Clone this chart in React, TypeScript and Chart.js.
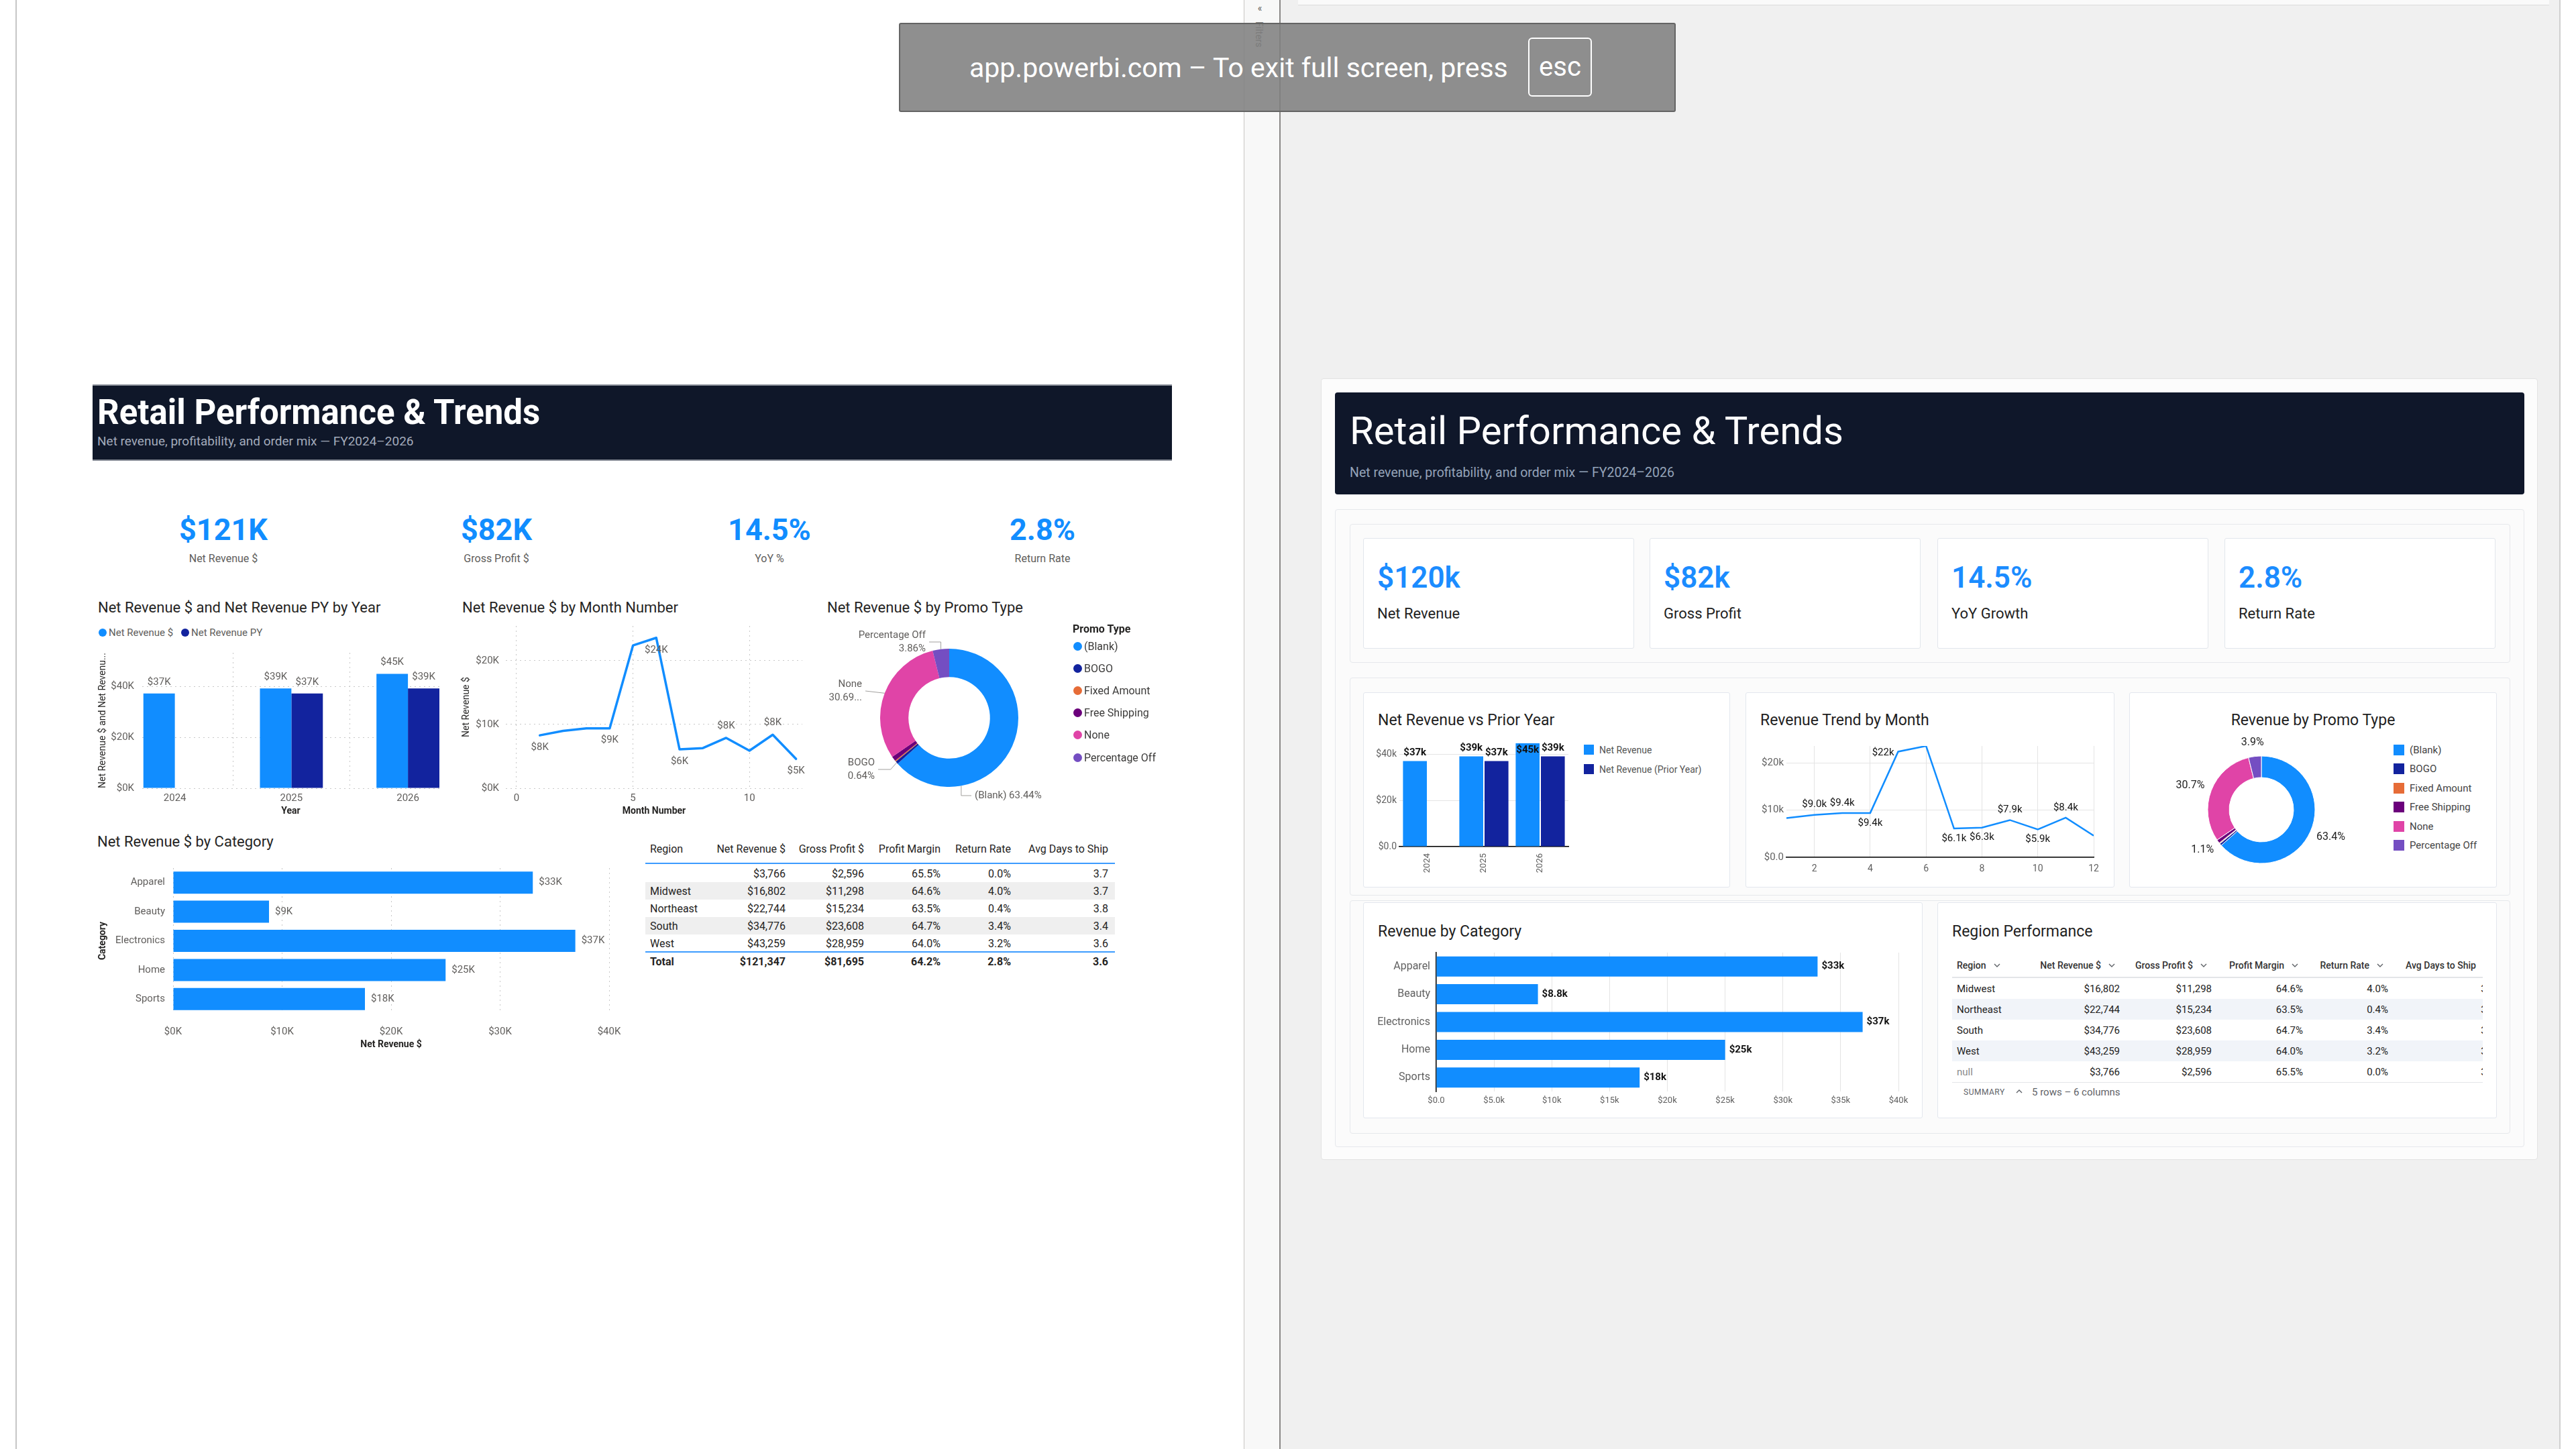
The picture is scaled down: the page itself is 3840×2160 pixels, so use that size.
import React, { useEffect, useRef } from 'react';
import { Chart, registerables } from 'chart.js';

Chart.register(...registerables);

const FONT = 'Roboto, "Noto Sans", "DejaVu Sans", sans-serif';
Chart.defaults.font.family = FONT;

// ---------------- DATA ----------------
const years = ['2024', '2025', '2026'];
const netRevenueK = [37.2, 39.2, 44.9];
const netRevenuePYK = [null, 37.2, 39.2];

const monthNumbers = [1, 2, 3, 4, 5, 6, 7, 8, 9, 10, 11, 12];
const monthlyRevenueK = [8.3, 9.0, 9.4, 9.4, 22.4, 23.6, 6.1, 6.3, 7.9, 5.9, 8.4, 4.6];

const promoTypes = ['(Blank)', 'BOGO', 'Fixed Amount', 'Free Shipping', 'None', 'Percentage Off'];
const promoRevenue = [76983, 777, 328, 1335, 37241, 4684];

const categories = ['Apparel', 'Beauty', 'Electronics', 'Home', 'Sports'];
const categoryRevenueK = [33.0, 8.8, 36.9, 25.0, 17.6];

const regions = ['', 'Midwest', 'Northeast', 'South', 'West'];
const regionNetRevenue = [3766, 16802, 22744, 34776, 43259];
const regionGrossProfit = [2596, 11298, 15234, 23608, 28959];
const regionProfitMargin = [65.5, 64.6, 63.5, 64.7, 64.0];
const regionReturnRate = [0.0, 4.0, 0.4, 3.4, 3.2];
const regionAvgDaysToShip = [3.7, 3.7, 3.8, 3.4, 3.6];
const tableTotals = ['Total', '$121,347', '$81,695', '64.2%', '2.8%', '3.6'];
const tableHeaders = ['Region', 'Net Revenue $', 'Gross Profit $', 'Profit Margin', 'Return Rate', 'Avg Days to Ship'];

const kpiLabelsPBI = ['Net Revenue $', 'Gross Profit $', 'YoY %', 'Return Rate'];
const kpiValuesPBI = ['$121K', '$82K', '14.5%', '2.8%'];
const kpiLabelsLooker = ['Net Revenue', 'Gross Profit', 'YoY Growth', 'Return Rate'];
const kpiValuesLooker = ['$120k', '$82k', '14.5%', '2.8%'];

// ---------------- STYLE ----------------
const PBI_BLUE = '#118DFF';
const PBI_NAVY = '#12239E';
const PBI_GRAY = '#605E5C';
const PBI_DARK = '#252423';
const LS_GRAY = '#616161';
const GRID_DOT = '#c8c8c8';
const GRID_LS = '#e4e4e4';
const promoColors = ['#118DFF', '#12239E', '#E66C37', '#6B007B', '#E044A7', '#744EC2'];

const leftLineLabelPos = ['below', null, null, 'below', null, 'below', 'below', null, 'above', null, 'above', 'below'];
const rightLineLabelPos = [null, 'above', 'above', 'below', 'left', null, 'below', 'below', 'above', 'below', 'above', null];

const leftDonutLabelStyle = [
  { idx: 0, dx: 38, dy: 116, align: 'left', twoLine: false, kneeDx: 0, anchorDeg: 170 },
  { idx: 1, dx: -111, dy: 77, align: 'right', twoLine: true, kneeDx: -9 },
  { idx: 4, dx: -130, dy: -40, align: 'right', twoLine: true, kneeDx: null, truncate: true },
  { idx: 5, dx: -35, dy: -113, align: 'right', twoLine: true, kneeDx: 0 },
];

const fmtK = (v: number) => `$${Math.round(v)}K`;
const fmtk = (v: number) => (v === 0 ? '$0.0' : v >= 10 ? `$${Math.round(v)}k` : `$${v.toFixed(1)}k`);
const money = (n: number) => '$' + n.toLocaleString('en-US');
const pct1 = (n: number) => n.toFixed(1) + '%';
const sum = (a: number[]) => a.reduce((s, v) => s + v, 0);

// ---------------- HELPERS ----------------
function T({ x, y, size, color = PBI_DARK, weight = 400, align = 'left', children, extra }: any) {
  const lh = Math.round(size * 1.2);
  const transform = align === 'center' ? 'translateX(-50%)' : align === 'right' ? 'translateX(-100%)' : undefined;
  return (
    <div
      style={{
        position: 'absolute', left: x, top: y - lh / 2, fontSize: size, lineHeight: `${lh}px`, color,
        fontWeight: weight, whiteSpace: 'nowrap', transform, ...extra,
      }}
    >
      {children}
    </div>
  );
}

function Box({ x, y, w, h, bg, border, radius, extra }: any) {
  return (
    <div
      style={{
        position: 'absolute', left: x, top: y, width: w, height: h, background: bg, border,
        borderRadius: radius, boxSizing: 'border-box', ...extra,
      }}
    />
  );
}

function Chevron({ x, y, up }: any) {
  return (
    <svg style={{ position: 'absolute', left: x - 5, top: y - 3 }} width={10} height={6} viewBox="0 0 10 6">
      <path d={up ? 'M1 5 L5 1 L9 5' : 'M1 1 L5 5 L9 1'} stroke="#5f6368" strokeWidth={1.4} fill="none" />
    </svg>
  );
}

function ChartCanvas({ x, y, w, h, make }: any) {
  const ref = useRef<HTMLCanvasElement>(null);
  useEffect(() => {
    const chart = new Chart(ref.current as HTMLCanvasElement, make());
    return () => chart.destroy();
  }, []);
  return <canvas ref={ref} width={w} height={h} style={{ position: 'absolute', left: x, top: y, width: w, height: h }} />;
}

const base = (pad: any) => ({
  responsive: false,
  animation: false,
  devicePixelRatio: 1,
  layout: { padding: pad },
  plugins: { legend: { display: false }, tooltip: { enabled: false } },
});

const barTopLabels = (fmt: any, color: string, font: string, gap: number, insideIfTop: boolean) => ({
  id: 'barTopLabels',
  afterDatasetsDraw(chart: any) {
    const { ctx, chartArea } = chart;
    ctx.save();
    ctx.fillStyle = color;
    ctx.font = font;
    ctx.textAlign = 'center';
    ctx.textBaseline = 'middle';
    chart.data.datasets.forEach((ds: any, di: number) => {
      const meta = chart.getDatasetMeta(di);
      meta.data.forEach((el: any, i: number) => {
        const raw = ds.data[i];
        const v = raw !== null && typeof raw === 'object' ? raw.y : raw;
        if (v == null) return;
        let yy = el.y - gap;
        if (insideIfTop && el.y <= chartArea.top + 1) yy = el.y + 10;
        ctx.fillText(fmt(v), el.x, yy);
      });
    });
    ctx.restore();
  },
});

const hbarLabels = (fmt: any, color: string, font: string, gap: number) => ({
  id: 'hbarLabels',
  afterDatasetsDraw(chart: any) {
    const { ctx } = chart;
    ctx.save();
    ctx.fillStyle = color;
    ctx.font = font;
    ctx.textAlign = 'left';
    ctx.textBaseline = 'middle';
    const ds = chart.data.datasets[0];
    chart.getDatasetMeta(0).data.forEach((el: any, i: number) => {
      ctx.fillText(fmt(ds.data[i]), el.x + gap, el.y);
    });
    ctx.restore();
  },
});

const lineLabels = (positions: any[], fmt: any, color: string, font: string, off: number) => ({
  id: 'lineLabels',
  afterDatasetsDraw(chart: any) {
    const { ctx } = chart;
    ctx.save();
    ctx.fillStyle = color;
    ctx.font = font;
    ctx.textBaseline = 'middle';
    const ds = chart.data.datasets[0];
    chart.getDatasetMeta(0).data.forEach((el: any, i: number) => {
      const pos = positions[i];
      if (!pos) return;
      const v = ds.data[i].y;
      if (pos === 'left') {
        ctx.textAlign = 'right';
        ctx.fillText(fmt(v), el.x - 6, el.y + 2);
      } else {
        ctx.textAlign = 'center';
        ctx.fillText(fmt(v), el.x, pos === 'above' ? el.y - off : el.y + off);
      }
    });
    ctx.restore();
  },
});

const leftDonutLabels = {
  id: 'leftDonutLabels',
  afterDatasetsDraw(chart: any) {
    const { ctx } = chart;
    const meta = chart.getDatasetMeta(0);
    const total = sum(promoRevenue);
    ctx.save();
    ctx.font = `15px ${FONT}`;
    ctx.fillStyle = PBI_GRAY;
    ctx.strokeStyle = '#a19f9d';
    ctx.lineWidth = 1;
    ctx.textBaseline = 'middle';
    leftDonutLabelStyle.forEach((s: any) => {
      const arc = meta.data[s.idx];
      const { x: cx, y: cy, outerRadius: R, startAngle, endAngle } = arc.getProps(['x', 'y', 'outerRadius', 'startAngle', 'endAngle'], true);
      const ang = s.anchorDeg != null ? ((s.anchorDeg - 90) * Math.PI) / 180 : (startAngle + endAngle) / 2;
      const ax = cx + R * Math.cos(ang);
      const ay = cy + R * Math.sin(ang);
      const tx = cx + s.dx;
      const ty = cy + s.dy;
      const endX = s.align === 'right' ? tx + 5 : tx - 5;
      ctx.beginPath();
      ctx.moveTo(ax, ay);
      if (s.kneeDx != null) ctx.lineTo(ax + s.kneeDx, ty);
      ctx.lineTo(endX, ty);
      ctx.stroke();
      const p = (promoRevenue[s.idx] / total) * 100;
      const pTxt = s.truncate ? p.toFixed(2) + '...' : p.toFixed(2) + '%';
      ctx.textAlign = s.align;
      if (s.twoLine) {
        ctx.fillText(promoTypes[s.idx], tx, ty - 10);
        ctx.fillText(pTxt, tx, ty + 10);
      } else {
        ctx.fillText(`${promoTypes[s.idx]} ${pTxt}`, tx, ty);
      }
    });
    ctx.restore();
  },
};

const rightDonutLabels = {
  id: 'rightDonutLabels',
  afterDatasetsDraw(chart: any) {
    const { ctx } = chart;
    const meta = chart.getDatasetMeta(0);
    const total = sum(promoRevenue);
    ctx.save();
    ctx.font = `16px ${FONT}`;
    ctx.fillStyle = '#222';
    ctx.textAlign = 'center';
    ctx.textBaseline = 'middle';
    meta.data.forEach((arc: any, i: number) => {
      const p = (promoRevenue[i] / total) * 100;
      if (p < 1) return;
      const { x, y, outerRadius, startAngle, endAngle } = arc.getProps(['x', 'y', 'outerRadius', 'startAngle', 'endAngle'], true);
      const a = (startAngle + endAngle) / 2;
      const c = Math.cos(a);
      const s = Math.sin(a);
      const txt = p.toFixed(1) + '%';
      const w = ctx.measureText(txt).width;
      ctx.fillText(txt, x + (outerRadius + 12) * c + (c * w) / 2, y + (outerRadius + 12) * s + s * 9);
    });
    ctx.restore();
  },
};

// ---------------- CHART CONFIGS ----------------
const makeL1 = () => ({
  type: 'bar',
  data: {
    datasets: [
      { label: 'Net Revenue $', data: years.map((yv, i) => ({ x: Number(yv), y: netRevenueK[i] })), backgroundColor: PBI_BLUE },
      { label: 'Net Revenue PY', data: years.map((yv, i) => ({ x: Number(yv), y: netRevenuePYK[i] })), backgroundColor: PBI_NAVY },
    ],
  },
  options: {
    ...base({ left: 0, top: 22, right: 15, bottom: 0 }),
    datasets: { bar: { categoryPercentage: 0.54, barPercentage: 1 } },
    scales: {
      x: {
        type: 'linear', min: 2023.72, max: 2026.27, offset: false,
        afterFit: (s: any) => { s.height = 45; },
        ticks: { stepSize: 1, includeBounds: false, callback: (v: any) => String(v), color: PBI_GRAY, font: { size: 15 }, padding: 6 },
        grid: { color: GRID_DOT, drawTicks: false },
        border: { display: false, dash: [2, 5] },
        title: { display: true, text: 'Year', color: PBI_DARK, font: { size: 14, weight: 'bold' }, padding: { top: 0, bottom: 2 } },
      },
      y: {
        min: 0, max: 53.2,
        afterFit: (s: any) => { s.width = 72; },
        ticks: { stepSize: 20, includeBounds: false, callback: (v: any) => fmtK(v), color: PBI_GRAY, font: { size: 15 }, padding: 12 },
        grid: { color: GRID_DOT, drawTicks: false },
        border: { display: false, dash: [2, 5] },
        title: { display: true, text: 'Net Revenue $ and Net Revenu...', color: PBI_DARK, font: { size: 14 }, padding: { top: 5, bottom: 0 } },
      },
    },
  },
  plugins: [barTopLabels(fmtK, PBI_GRAY, `15px ${FONT}`, 17, false)],
});

const makeL2 = () => ({
  type: 'line',
  data: {
    datasets: [{
      data: monthNumbers.map((m, i) => ({ x: m, y: monthlyRevenueK[i] })),
      borderColor: PBI_BLUE, borderWidth: 3.5, pointRadius: 0, tension: 0, borderJoinStyle: 'round', borderCapStyle: 'round',
    }],
  },
  options: {
    ...base({ left: 0, top: 20, right: 14, bottom: 0 }),
    scales: {
      x: {
        type: 'linear', min: -0.46, max: 12.27,
        afterFit: (s: any) => { s.height = 45; },
        ticks: { stepSize: 5, includeBounds: false, color: PBI_GRAY, font: { size: 15 }, padding: 6 },
        grid: { color: GRID_DOT, drawTicks: false },
        border: { display: false, dash: [2, 5] },
        title: { display: true, text: 'Month Number', color: PBI_DARK, font: { size: 14, weight: 'bold' }, padding: { top: 0, bottom: 2 } },
      },
      y: {
        min: 0, max: 25.47,
        afterFit: (s: any) => { s.width = 69; },
        ticks: { stepSize: 10, includeBounds: false, callback: (v: any) => fmtK(v), color: PBI_GRAY, font: { size: 15 }, padding: 10 },
        grid: { color: GRID_DOT, drawTicks: false },
        border: { display: false, dash: [2, 5] },
        title: { display: true, text: 'Net Revenue $', color: PBI_DARK, font: { size: 14 }, padding: { top: 2, bottom: 0 } },
      },
    },
  },
  plugins: [lineLabels(leftLineLabelPos, fmtK, PBI_GRAY, `15px ${FONT}`, 18)],
});

const makeL3 = () => ({
  type: 'doughnut',
  data: { labels: promoTypes, datasets: [{ data: promoRevenue, backgroundColor: promoColors, borderWidth: 0 }] },
  options: { ...base({ left: 82, right: 82, top: 42, bottom: 42 }), cutout: '59%' },
  plugins: [leftDonutLabels],
});

const makeL4 = () => ({
  type: 'bar',
  data: { labels: categories, datasets: [{ data: categoryRevenueK, backgroundColor: PBI_BLUE }] },
  options: {
    ...base({ left: 0, top: 22, right: 52, bottom: 0 }),
    indexAxis: 'y',
    datasets: { bar: { categoryPercentage: 1, barPercentage: 0.76 } },
    scales: {
      x: {
        type: 'linear', min: 0, max: 40,
        afterFit: (s: any) => { s.height = 57; },
        ticks: { stepSize: 10, callback: (v: any) => fmtK(v), color: PBI_GRAY, font: { size: 15 }, padding: 18 },
        grid: { color: GRID_DOT, drawTicks: false },
        border: { display: false, dash: [2, 5] },
        title: { display: true, text: 'Net Revenue $', color: PBI_DARK, font: { size: 14, weight: 'bold' }, padding: { top: 0, bottom: 2 } },
      },
      y: {
        afterFit: (s: any) => { s.width = 118; },
        ticks: { color: PBI_GRAY, font: { size: 15 }, padding: 12 },
        grid: { display: false, drawTicks: false },
        border: { display: false },
        title: { display: true, text: 'Category', color: PBI_DARK, font: { size: 14, weight: 'bold' }, padding: { top: 5, bottom: 0 } },
      },
    },
  },
  plugins: [hbarLabels(fmtK, PBI_GRAY, `15px ${FONT}`, 9)],
});

const makeR1 = () => ({
  type: 'bar',
  data: {
    labels: years,
    datasets: [
      { label: 'Net Revenue', data: netRevenueK, backgroundColor: PBI_BLUE },
      { label: 'Net Revenue (Prior Year)', data: netRevenuePYK, backgroundColor: PBI_NAVY },
    ],
  },
  options: {
    ...base({ left: 0, top: 18, right: 12, bottom: 0 }),
    datasets: { bar: { categoryPercentage: 0.895, barPercentage: 0.947 } },
    scales: {
      x: {
        afterFit: (s: any) => { s.height = 48; },
        ticks: { minRotation: 90, maxRotation: 90, autoSkip: false, color: LS_GRAY, font: { size: 13 }, padding: 10 },
        grid: { display: false, drawTicks: false },
        border: { display: true, color: '#000', width: 1.5 },
      },
      y: {
        min: 0, max: Math.max(...netRevenueK),
        afterFit: (s: any) => { s.width = 46; },
        ticks: { stepSize: 20, includeBounds: false, callback: (v: any) => fmtk(v), color: LS_GRAY, font: { size: 14 }, padding: 4 },
        grid: { color: GRID_LS, drawTicks: false },
        border: { display: false },
      },
    },
  },
  plugins: [barTopLabels(fmtk, '#111', `bold 15px ${FONT}`, 12, true)],
});

const makeR2 = () => ({
  type: 'line',
  data: {
    datasets: [{
      data: monthNumbers.map((m, i) => ({ x: m, y: monthlyRevenueK[i] })),
      borderColor: PBI_BLUE, borderWidth: 2.5, pointRadius: 0, tension: 0,
    }],
  },
  options: {
    ...base({ left: 0, top: 17, right: 19, bottom: 0 }),
    scales: {
      x: {
        type: 'linear', min: 1, max: 12,
        afterFit: (s: any) => { s.height = 37; },
        ticks: { stepSize: 2, includeBounds: false, color: LS_GRAY, font: { size: 14 }, padding: 9 },
        grid: { color: GRID_LS, drawTicks: false },
        border: { display: true, color: '#000', width: 1.5 },
      },
      y: {
        min: 0, max: Math.max(...monthlyRevenueK),
        afterFit: (s: any) => { s.width = 53; },
        ticks: { stepSize: 10, includeBounds: false, callback: (v: any) => fmtk(v), color: LS_GRAY, font: { size: 15 }, padding: 4 },
        grid: { color: GRID_LS, drawTicks: false },
        border: { display: false },
      },
    },
  },
  plugins: [lineLabels(rightLineLabelPos, fmtk, '#111', `15px ${FONT}`, 15)],
});

const makeR3 = () => ({
  type: 'doughnut',
  data: { labels: promoTypes, datasets: [{ data: promoRevenue, backgroundColor: promoColors, borderWidth: 1, borderColor: '#ffffff' }] },
  options: { ...base({ left: 90.5, right: 88.5, top: 36.5, bottom: 32.5 }), cutout: '60%' },
  plugins: [rightDonutLabels],
});

const makeR4 = () => ({
  type: 'bar',
  data: { labels: categories, datasets: [{ data: categoryRevenueK, backgroundColor: PBI_BLUE }] },
  options: {
    ...base({ left: 0, top: 20, right: 30, bottom: 0 }),
    indexAxis: 'y',
    datasets: { bar: { categoryPercentage: 1, barPercentage: 0.725 } },
    scales: {
      x: {
        type: 'linear', min: 0, max: 40,
        afterFit: (s: any) => { s.height = 33; },
        ticks: { stepSize: 5, callback: (v: any) => fmtk(v), color: LS_GRAY, font: { size: 13 }, padding: 6 },
        grid: { color: GRID_LS, drawTicks: false },
        border: { display: false },
      },
      y: {
        afterFit: (s: any) => { s.width = 101; },
        ticks: { color: LS_GRAY, font: { size: 16 }, padding: 9 },
        grid: { display: false, drawTicks: false },
        border: { display: true, color: '#000', width: 1.5 },
      },
    },
  },
  plugins: [hbarLabels(fmtk, '#111', `bold 15px ${FONT}`, 6)],
});

// ---------------- APP ----------------
export default function App() {
  const leftRows = regions.map((r, i) => [
    r, money(regionNetRevenue[i]), money(regionGrossProfit[i]), pct1(regionProfitMargin[i]),
    pct1(regionReturnRate[i]), regionAvgDaysToShip[i].toFixed(1),
  ]);
  const LT_RIGHT = [0, 1171, 1288, 1402, 1507, 1652];
  const rightOrder = [1, 2, 3, 4, 0];
  const RT_RIGHT = [0, 3160, 3297, 3433, 3560, 3719];
  const RTX = 2910; // right table clip origin
  const RTY = 1420;
  const kpiCardX = [2032, 2459, 2888, 3316];
  const kpiPbiX = [333, 740, 1147, 1554];

  return (
    <div style={{ position: 'fixed', left: 0, top: 0, width: 3840, height: 2160, background: '#ffffff', overflow: 'hidden', fontFamily: FONT }}>
      {/* frame / background */}
      <Box x={23} y={0} w={2} h={2160} bg="#c6c6c6" />
      <Box x={1854} y={0} w={54} h={2160} bg="#f8f8f8" />
      <Box x={1854} y={0} w={1} h={2160} bg="#c8c6c4" />
      <Box x={1907} y={0} w={2} h={2160} bg="#8a8886" />
      <Box x={1909} y={0} w={1906} h={2160} bg="#f0f0f0" />
      <Box x={3815} y={0} w={2} h={2160} bg="#d0d0d0" />
      <Box x={1935} y={0} w={1865} h={8} bg="#fafafa" extra={{ borderBottom: '1px solid #dcdcdc' }} />
      <T x={1878} y={12} size={14} color="#605E5C" align="center">«</T>
      <div style={{ position: 'absolute', left: 1869, top: 32, fontSize: 14, color: '#605E5C', writingMode: 'vertical-rl', lineHeight: '16px' }}>Filters</div>

      {/* ============ LEFT: POWER BI ============ */}
      <Box x={138} y={573} w={1609} h={114} bg="#0f1729" extra={{ borderTop: '2px solid #8b909a', borderBottom: '2px solid #8b909a' }} />
      <T x={145} y={614} size={51} weight={700} color="#ffffff">Retail Performance &amp; Trends</T>
      <T x={145} y={657} size={19} color="#a3abbb">Net revenue, profitability, and order mix — FY2024–2026</T>

      {kpiValuesPBI.map((v, i) => (
        <React.Fragment key={'kp' + i}>
          <T x={kpiPbiX[i]} y={790} size={45} weight={700} color={PBI_BLUE} align="center">{v}</T>
          <T x={kpiPbiX[i]} y={832} size={16} color={PBI_GRAY} align="center">{kpiLabelsPBI[i]}</T>
        </React.Fragment>
      ))}

      {/* chart titles */}
      <T x={146} y={906} size={22} color={PBI_DARK}>Net Revenue $ and Net Revenue PY by Year</T>
      <T x={689} y={906} size={22} color={PBI_DARK}>Net Revenue $ by Month Number</T>
      <T x={1233} y={906} size={22} color={PBI_DARK}>Net Revenue $ by Promo Type</T>
      <T x={145} y={1255} size={22} color={PBI_DARK}>Net Revenue $ by Category</T>

      {/* legend chart 1 */}
      <div style={{ position: 'absolute', left: 147, top: 937, width: 12, height: 12, borderRadius: 6, background: PBI_BLUE }} />
      <T x={162} y={943} size={15} color={PBI_GRAY}>Net Revenue $</T>
      <div style={{ position: 'absolute', left: 270, top: 937, width: 12, height: 12, borderRadius: 6, background: PBI_NAVY }} />
      <T x={285} y={943} size={15} color={PBI_GRAY}>Net Revenue PY</T>

      <ChartCanvas x={140} y={951} w={530} h={269} make={makeL1} />
      <ChartCanvas x={685} y={913} w={525} h={307} make={makeL2} />
      <ChartCanvas x={1230} y={925} w={370} h={290} make={makeL3} />

      {/* promo legend */}
      <T x={1599} y={937} size={16} weight={700} color={PBI_DARK}>Promo Type</T>
      {promoTypes.map((p, i) => {
        const cy = 963 + i * 33.2;
        return (
          <React.Fragment key={'pl' + i}>
            <div style={{ position: 'absolute', left: 1600, top: cy - 6.5, width: 13, height: 13, borderRadius: 7, background: promoColors[i] }} />
            <T x={1616} y={cy} size={16} color="#3b3a39">{p}</T>
          </React.Fragment>
        );
      })}

      <ChartCanvas x={140} y={1272} w={820} h={296} make={makeL4} />

      {/* left table */}
      {tableHeaders.map((h, c) =>
        c === 0 ? (
          <T key={'lh' + c} x={969} y={1265} size={16} color={PBI_DARK}>{h}</T>
        ) : (
          <T key={'lh' + c} x={LT_RIGHT[c]} y={1265} size={16} color={PBI_DARK} align="right">{h}</T>
        )
      )}
      <Box x={962} y={1286} w={700} h={2} bg="#3d9cff" />
      {leftRows.map((row, r) => {
        const top = 1289 + r * 26;
        const cy = top + 13;
        return (
          <React.Fragment key={'lr' + r}>
            {r % 2 === 1 && <Box x={962} y={top} w={700} h={26} bg="#efefef" />}
            {row.map((cell, c) =>
              c === 0 ? (
                <T key={c} x={969} y={cy} size={16} color={PBI_DARK}>{cell}</T>
              ) : (
                <T key={c} x={LT_RIGHT[c]} y={cy} size={16} color={PBI_DARK} align="right">{cell}</T>
              )
            )}
          </React.Fragment>
        );
      })}
      <Box x={962} y={1418} w={700} h={2} bg="#3d9cff" />
      {tableTotals.map((cell, c) =>
        c === 0 ? (
          <T key={'lt' + c} x={969} y={1433} size={16} weight={700} color={PBI_DARK}>{cell}</T>
        ) : (
          <T key={'lt' + c} x={LT_RIGHT[c]} y={1433} size={16} weight={700} color={PBI_DARK} align="right">{cell}</T>
        )
      )}

      {/* ============ RIGHT: LOOKER ============ */}
      <Box x={1969} y={564} w={1814} h={1165} bg="#fcfcfc" border="1px solid #e3e3e3" radius={4} />
      <Box x={1990} y={585} w={1773} h={152} bg="#0f172a" radius={4} />
      <T x={2012} y={642} size={58} color="#ffffff">Retail Performance &amp; Trends</T>
      <T x={2012} y={704} size={19.5} color="#94a3b8">Net revenue, profitability, and order mix — FY2024–2026</T>

      <Box x={1990} y={759} w={1773} h={951} bg="#fbfbfb" border="1px solid #e6e8ec" radius={4} />
      <Box x={2012} y={781} w={1730} h={207} bg="#fbfbfb" border="1px solid #e6e8ec" radius={4} />
      {kpiValuesLooker.map((v, i) => (
        <React.Fragment key={'kl' + i}>
          <Box x={kpiCardX[i]} y={802} w={404} h={165} bg="#ffffff" border="1px solid #e2e6ec" radius={3} />
          <T x={kpiCardX[i] + 21} y={861} size={44} weight={600} color="#1b8cff">{v}</T>
          <T x={kpiCardX[i] + 21} y={915} size={22} color="#1f1f1f">{kpiLabelsLooker[i]}</T>
        </React.Fragment>
      ))}

      <Box x={2012} y={1010} w={1730} h={325} bg="#fbfbfb" border="1px solid #e6e8ec" radius={4} />
      <Box x={2032} y={1032} w={547} h={291} bg="#ffffff" border="1px solid #e3e7ee" radius={3} />
      <Box x={2602} y={1032} w={550} h={291} bg="#ffffff" border="1px solid #e3e7ee" radius={3} />
      <Box x={3174} y={1032} w={548} h={291} bg="#ffffff" border="1px solid #e3e7ee" radius={3} />

      <T x={2054} y={1074} size={23} color="#1f1f1f">Net Revenue vs Prior Year</T>
      <T x={2624} y={1074} size={23} color="#1f1f1f">Revenue Trend by Month</T>
      <T x={3448} y={1074} size={23} color="#1f1f1f" align="center">Revenue by Promo Type</T>

      <ChartCanvas x={2040} y={1090} w={310} h={220} make={makeR1} />
      <Box x={2361} y={1110} w={15} h={15} bg={PBI_BLUE} />
      <T x={2384} y={1118} size={14} color="#555">Net Revenue</T>
      <Box x={2361} y={1139} w={15} h={15} bg={PBI_NAVY} />
      <T x={2384} y={1147} size={14} color="#555">Net Revenue (Prior Year)</T>

      <ChartCanvas x={2610} y={1095} w={530} h={220} make={makeR2} />

      <ChartCanvas x={3200} y={1090} w={340} h={230} make={makeR3} />
      {promoTypes.map((p, i) => {
        const cy = 1118 + i * 28.4;
        return (
          <React.Fragment key={'rl' + i}>
            <Box x={3568} y={cy - 8} w={16} h={16} bg={promoColors[i]} />
            <T x={3592} y={cy} size={15} color="#444">{p}</T>
          </React.Fragment>
        );
      })}

      <Box x={2012} y={1342} w={1730} h={348} bg="#fbfbfb" border="1px solid #e6e8ec" radius={4} />
      <Box x={2032} y={1345} w={834} h={322} bg="#ffffff" border="1px solid #e3e7ee" radius={3} />
      <Box x={2888} y={1345} w={834} h={322} bg="#ffffff" border="1px solid #e3e7ee" radius={3} />
      <T x={2054} y={1389} size={23} color="#1f1f1f">Revenue by Category</T>
      <T x={2910} y={1389} size={23} color="#1f1f1f">Region Performance</T>

      <ChartCanvas x={2040} y={1400} w={820} h={260} make={makeR4} />

      {/* right table */}
      <div style={{ position: 'absolute', left: RTX, top: RTY, width: 791, height: 200, overflow: 'hidden' }}>
        {tableHeaders.map((h, c) =>
          c === 0 ? (
            <React.Fragment key={'rh' + c}>
              <T x={2917 - RTX} y={1439 - RTY} size={14} weight={500} color="#333">{h}</T>
              <Chevron x={2917 - RTX + 60} y={1439 - RTY} />
            </React.Fragment>
          ) : (
            <React.Fragment key={'rh' + c}>
              <T x={RT_RIGHT[c] - 28 - RTX} y={1439 - RTY} size={14} weight={500} color="#333" align="right">{h}</T>
              <Chevron x={RT_RIGHT[c] - 12 - RTX} y={1439 - RTY} />
            </React.Fragment>
          )
        )}
        <Box x={0} y={1456 - RTY} w={791} h={2} bg="#e3e5e8" />
        {rightOrder.map((ri, r) => {
          const top = 1458 + r * 31;
          const cy = top + 15.5;
          const name = regions[ri] === '' ? 'null' : regions[ri];
          const row = leftRows[ri];
          return (
            <React.Fragment key={'rr' + r}>
              {r % 2 === 1 && <Box x={0} y={top - RTY} w={791} h={31} bg="#f1f4f9" />}
              <T x={2917 - RTX} y={cy - RTY} size={15} color={regions[ri] === '' ? '#8a8a8a' : '#222'}>{name}</T>
              {row.slice(1).map((cell, c) => (
                <T key={c} x={RT_RIGHT[c + 1] - RTX} y={cy - RTY} size={15} color="#222" align="right">{cell}</T>
              ))}
            </React.Fragment>
          );
        })}
        <Box x={0} y={1613 - RTY} w={791} h={1} bg="#e3e5e8" />
      </div>
      <T x={2927} y={1628} size={12} color="#5f6368" extra={{ letterSpacing: '0.5px' }}>SUMMARY</T>
      <Chevron x={3010} y={1627} up />
      <T x={3029} y={1628} size={15} color="#5f6368">{`${regions.length} rows – ${tableHeaders.length} columns`}</T>

      {/* ============ FULLSCREEN BANNER ============ */}
      <div
        style={{
          position: 'absolute', left: 1340, top: 34, width: 1158, height: 133, boxSizing: 'border-box',
          background: 'rgba(128,128,128,0.88)', border: '2px solid rgba(95,95,95,0.9)', borderRadius: 3,
        }}
      />
      <T x={1445} y={101} size={41} color="#ffffff">app.powerbi.com – To exit full screen, press</T>
      <div
        style={{
          position: 'absolute', left: 2278, top: 56, width: 95, height: 88, boxSizing: 'border-box',
          border: '2px solid #ffffff', borderRadius: 6, color: '#fff', fontSize: 40, lineHeight: '84px',
          textAlign: 'center',
        }}
      >
        esc
      </div>
    </div>
  );
}
